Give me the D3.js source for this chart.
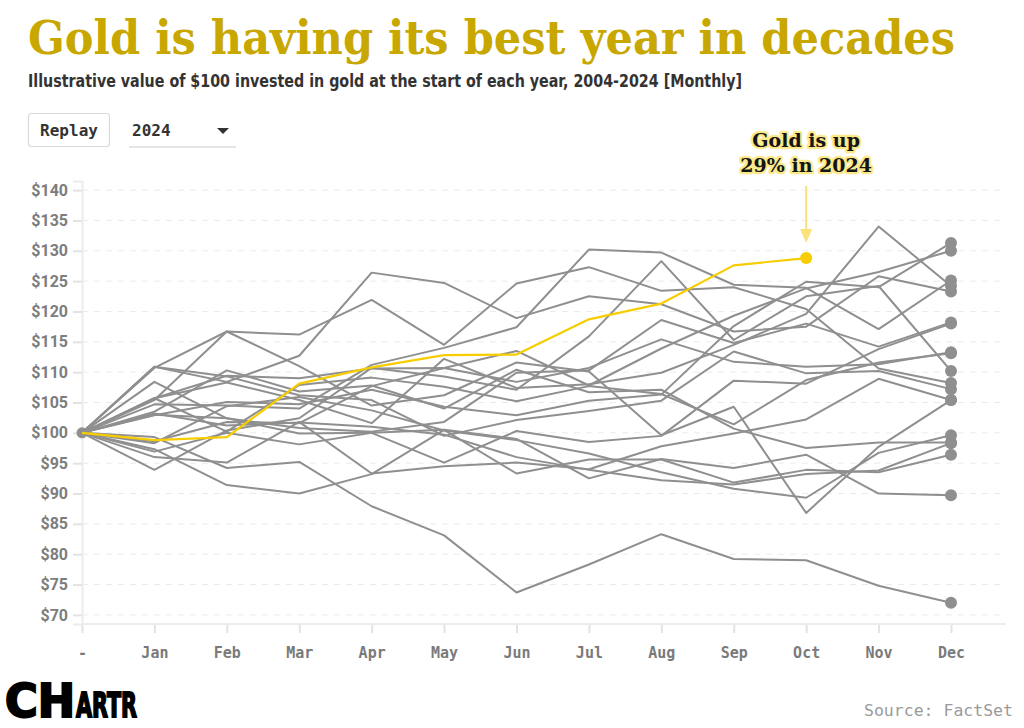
<!DOCTYPE html>
<html>
<head>
<meta charset="utf-8">
<script src="https://cdn.jsdelivr.net/npm/d3@7"></script>
<style>
  html, body { margin: 0; padding: 0; background: #fff; }
  svg { display: block; }
</style>
</head>
<body>
<svg id="chart" width="1024" height="728"></svg>
<script>
// ---------- DATA ----------
const months = ["-", "Jan", "Feb", "Mar", "Apr", "May", "Jun", "Jul", "Aug", "Sep", "Oct", "Nov", "Dec"];
const yTicks = [70, 75, 80, 85, 90, 95, 100, 105, 110, 115, 120, 125, 130, 135, 140];

const v2004 = [100, 96.0, 95.1, 101.8, 93.3, 94.5, 95.1, 94.0, 97.8, 99.9, 102.2, 108.9, 105.4];
const v2005 = [100, 96.9, 100.0, 98.1, 100.0, 95.1, 100.3, 98.5, 99.5, 108.6, 108.1, 113.8, 118.0];
const v2006 = [100, 110.9, 108.4, 112.7, 126.4, 124.7, 118.9, 122.5, 121.2, 116.7, 117.5, 125.8, 123.3];
const v2007 = [100, 102.9, 105.1, 104.7, 107.1, 104.3, 102.9, 105.3, 106.3, 117.6, 124.9, 124.0, 131.3];
const v2008 = [100, 110.7, 116.7, 111.0, 104.5, 106.2, 111.6, 110.1, 99.6, 104.3, 86.8, 97.7, 105.4];
const v2009 = [100, 105.7, 108.3, 105.4, 101.6, 112.2, 107.4, 108.0, 109.9, 114.5, 119.6, 134.0, 124.2];
const v2010 = [100, 98.6, 101.8, 101.6, 107.7, 110.7, 113.5, 107.8, 113.9, 119.3, 123.8, 126.5, 130.0];
const v2011 = [100, 93.9, 100.4, 102.4, 110.7, 109.3, 107.1, 115.9, 128.3, 115.3, 122.5, 124.2, 110.2];
const v2012 = [100, 110.9, 109.3, 106.2, 105.4, 99.5, 102.1, 103.6, 105.3, 113.4, 109.8, 110.2, 107.2];
const v2013 = [100, 99.3, 94.2, 95.2, 87.9, 83.1, 73.7, 78.3, 83.3, 79.2, 79.0, 74.8, 72.0];
const v2014 = [100, 103.5, 110.3, 106.8, 107.8, 104.0, 110.4, 106.7, 107.1, 100.7, 97.5, 98.4, 98.4];
const v2015 = [100, 108.4, 102.4, 99.9, 100.0, 100.5, 99.0, 92.5, 95.7, 94.2, 96.4, 90.0, 89.7];
const v2016 = [100, 105.4, 116.7, 116.2, 121.9, 114.5, 124.6, 127.3, 123.4, 124.0, 120.4, 110.6, 108.2];
const v2017 = [100, 105.7, 109.4, 109.0, 110.6, 110.7, 108.4, 110.7, 115.4, 111.7, 110.9, 111.3, 113.3];
const v2018 = [100, 103.2, 101.2, 101.7, 101.0, 99.7, 96.0, 93.9, 92.2, 91.5, 93.2, 93.8, 98.3];
const v2019 = [100, 103.0, 102.4, 100.8, 100.2, 101.8, 109.9, 110.3, 118.6, 114.8, 118.0, 114.2, 118.2];
const v2020 = [100, 104.7, 104.5, 104.0, 111.2, 114.0, 117.4, 130.2, 129.7, 124.4, 123.9, 117.1, 125.1];
const v2021 = [100, 97.3, 91.4, 90.0, 93.2, 100.5, 93.3, 95.6, 95.6, 91.8, 93.9, 93.5, 96.4];
const v2022 = [100, 98.3, 104.4, 105.9, 103.7, 100.4, 98.8, 96.6, 93.5, 90.8, 89.3, 96.7, 99.6];
const v2023 = [100, 105.7, 100.2, 107.9, 109.1, 107.6, 105.2, 107.7, 106.4, 101.4, 108.7, 111.6, 113.1];
const v2024 = [100, 98.8, 99.3, 108.1, 110.8, 112.8, 112.9, 118.7, 121.3, 127.6, 128.8];

const pastYears = [2004, 2005, 2006, 2007, 2008, 2009, 2010, 2011, 2012, 2013,
                   2014, 2015, 2016, 2017, 2018, 2019, 2020, 2021, 2022, 2023];
const pastSeries = [v2004, v2005, v2006, v2007, v2008, v2009, v2010, v2011, v2012, v2013,
                    v2014, v2015, v2016, v2017, v2018, v2019, v2020, v2021, v2022, v2023];

const titleText = "Gold is having its best year in decades";
const subtitleText = "Illustrative value of $100 invested in gold at the start of each year, 2004-2024 [Monthly]";
const annotationLines = ["Gold is up", "29% in 2024"];
const sourceText = "Source: FactSet";

// ---------- LAYOUT ----------
const svg = d3.select("#chart");
const GOLD = "#c8a700";
const YELLOW = "#f7cd00";
const GREY = "#8f8f8f";
const left = 82, right = 1006, lastX = 951;

const x = d3.scalePoint().domain(months).range([left, lastX]);
const y = d3.scaleLinear().domain([68.5, 141.5]).range([624, 181]);

// Title
const title = svg.append("text")
  .attr("x", 28).attr("y", 54)
  .attr("font-family", "'DejaVu Serif', serif")
  .attr("font-weight", "bold")
  .attr("font-size", 46)
  .attr("fill", GOLD)
  .text(titleText);
if (title.node().getComputedTextLength() > 927) {
  title.attr("textLength", 927).attr("lengthAdjust", "spacingAndGlyphs");
}

// Subtitle
svg.append("text")
  .attr("x", 28).attr("y", 87)
  .attr("font-family", "'Liberation Sans Narrow', 'DejaVu Sans Condensed', 'Roboto', sans-serif")
  .attr("font-weight", "bold")
  .attr("font-size", 17)
  .attr("fill", "#333")
  .attr("textLength", 714).attr("lengthAdjust", "spacingAndGlyphs")
  .text(subtitleText);

// Controls
svg.append("rect")
  .attr("x", 28.5).attr("y", 113.5).attr("width", 81).attr("height", 33).attr("rx", 3)
  .attr("fill", "#fff").attr("stroke", "#d9d9d9").attr("stroke-width", 1.2);
svg.append("text")
  .attr("x", 69).attr("y", 136)
  .attr("text-anchor", "middle")
  .attr("font-family", "'DejaVu Sans Mono', 'Liberation Mono', monospace")
  .attr("font-weight", "bold").attr("font-size", 16).attr("fill", "#333")
  .text("Replay");
svg.append("text")
  .attr("x", 132).attr("y", 136)
  .attr("font-family", "'DejaVu Sans Mono', 'Liberation Mono', monospace")
  .attr("font-weight", "bold").attr("font-size", 16).attr("fill", "#333")
  .text("2024");
svg.append("path")
  .attr("d", "M217,128 L229,128 L223,134 Z")
  .attr("fill", "#333");
svg.append("line")
  .attr("x1", 129).attr("x2", 236).attr("y1", 147).attr("y2", 147)
  .attr("stroke", "#dcdcdc").attr("stroke-width", 1.5);

// Grid lines
svg.append("g").selectAll("line").data(yTicks).join("line")
  .attr("x1", left).attr("x2", right)
  .attr("y1", d => y(d)).attr("y2", d => y(d))
  .attr("stroke", "#ebebeb").attr("stroke-width", 1)
  .attr("stroke-dasharray", "6,6");

// Y axis
const yAxis = svg.append("g")
  .attr("transform", `translate(${left},0)`)
  .call(d3.axisLeft(y).tickValues(yTicks).tickFormat(d => "$" + d).tickSize(9).tickPadding(5));
yAxis.select(".domain").attr("stroke", "#ececec").attr("stroke-width", 2);
yAxis.selectAll(".tick line").attr("stroke", "#e3e3e3").attr("stroke-width", 2);
yAxis.selectAll(".tick text")
  .attr("font-family", "Roboto, 'Liberation Sans', sans-serif")
  .attr("font-weight", "bold").attr("font-size", 16).attr("fill", "#7d7d7d");

// X axis
const xAxis = svg.append("g")
  .attr("transform", `translate(0,${y(68.5)})`)
  .call(d3.axisBottom(x).tickSize(9).tickPadding(14));
xAxis.select(".domain").remove();
xAxis.append("line")
  .attr("x1", left).attr("x2", right).attr("y1", 0).attr("y2", 0)
  .attr("stroke", "#ececec").attr("stroke-width", 2);
xAxis.selectAll(".tick line").attr("stroke", "#e3e3e3").attr("stroke-width", 2);
xAxis.selectAll(".tick text")
  .attr("font-family", "'DejaVu Sans Mono', 'Liberation Mono', monospace")
  .attr("font-weight", "bold").attr("font-size", 15).attr("fill", "#7a7a7a");

// Lines
const line = d3.line().x((d, i) => x(months[i])).y(d => y(d));

const pastG = svg.append("g");
pastG.selectAll("path").data(pastSeries).join("path")
  .attr("d", line)
  .attr("fill", "none")
  .attr("stroke", GREY)
  .attr("stroke-width", 2)
  .attr("stroke-linejoin", "round");

pastG.selectAll("circle").data(pastSeries).join("circle")
  .attr("cx", d => x(months[d.length - 1]))
  .attr("cy", d => y(d[d.length - 1]))
  .attr("r", 6)
  .attr("fill", GREY);

// start point
svg.append("circle")
  .attr("cx", x(months[0])).attr("cy", y(v2024[0])).attr("r", 5.5).attr("fill", GREY);

// 2024 line
svg.append("path")
  .datum(v2024)
  .attr("d", line)
  .attr("fill", "none")
  .attr("stroke", YELLOW)
  .attr("stroke-width", 2.2)
  .attr("stroke-linejoin", "round");
const lastIdx = v2024.length - 1;
const dotX = x(months[lastIdx]), dotY = y(v2024[lastIdx]);
svg.append("circle")
  .attr("cx", dotX).attr("cy", dotY).attr("r", 6).attr("fill", YELLOW);

// Annotation arrow
svg.append("line")
  .attr("x1", dotX).attr("x2", dotX)
  .attr("y1", dotY - 72).attr("y2", dotY - 26)
  .attr("stroke", "#f9e27c").attr("stroke-width", 2);
svg.append("path")
  .attr("d", `M${dotX - 6},${dotY - 29} L${dotX + 6},${dotY - 29} L${dotX},${dotY - 15} Z`)
  .attr("fill", "#f9e27c");

// Annotation text
const ann = svg.append("g");
annotationLines.forEach((t, i) => {
  ann.append("text")
    .attr("x", dotX).attr("y", 147 + i * 25)
    .attr("text-anchor", "middle")
    .attr("font-family", "'DejaVu Serif', serif")
    .attr("font-weight", "bold").attr("font-size", 19)
    .attr("fill", "#151515")
    .attr("stroke", "#fbe98a").attr("stroke-width", 4.5)
    .attr("stroke-linejoin", "round")
    .attr("paint-order", "stroke")
    .text(t);
});

// Source
svg.append("text")
  .attr("x", 1013).attr("y", 716)
  .attr("text-anchor", "end")
  .attr("font-family", "'DejaVu Sans Mono', 'Liberation Mono', monospace")
  .attr("font-size", 16.5).attr("fill", "#9a9a9a")
  .text(sourceText);

// Logo
const logo = svg.append("g");
logo.append("text")
  .attr("x", 5).attr("y", 717)
  .attr("font-family", "'Liberation Sans Narrow', 'DejaVu Sans Condensed', 'Liberation Sans', sans-serif")
  .attr("font-weight", "900").attr("font-size", 46)
  .attr("fill", "#000").attr("stroke", "#000").attr("stroke-width", 2)
  .attr("textLength", 70).attr("lengthAdjust", "spacingAndGlyphs")
  .text("CH");
logo.append("text")
  .attr("x", 76).attr("y", 717)
  .attr("font-family", "'Liberation Sans Narrow', 'DejaVu Sans Condensed', 'Liberation Sans', sans-serif")
  .attr("font-weight", "900").attr("font-size", 34)
  .attr("fill", "#000").attr("stroke", "#000").attr("stroke-width", 1.8)
  .attr("textLength", 61).attr("lengthAdjust", "spacingAndGlyphs")
  .text("ARTR");
</script>
</body>
</html>
